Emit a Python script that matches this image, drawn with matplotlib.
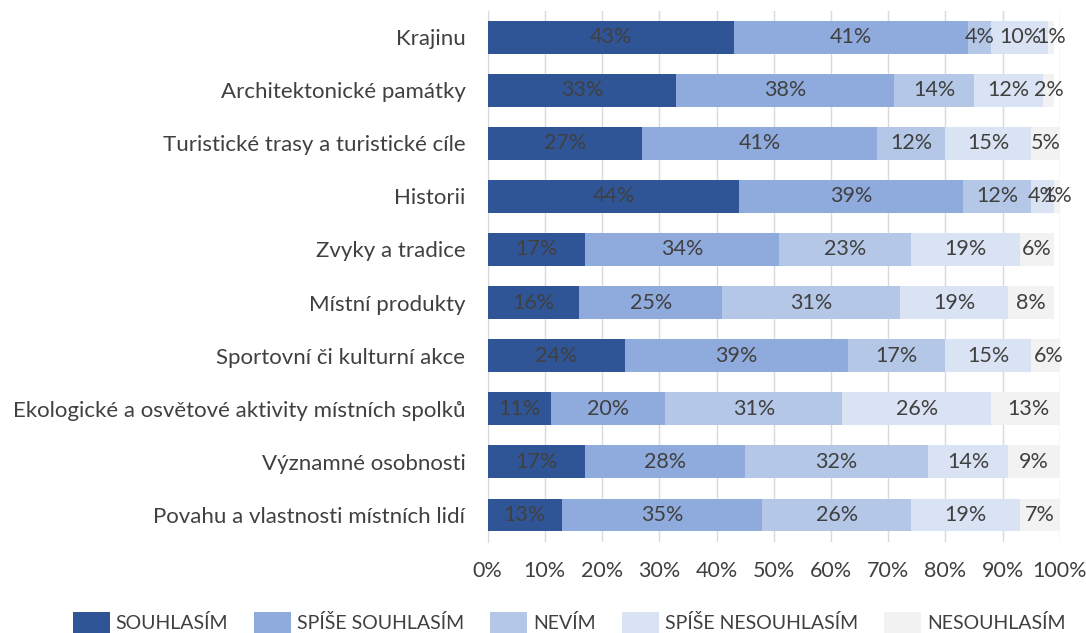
import matplotlib
matplotlib.use("Agg")
import matplotlib.pyplot as plt
import numpy as np

plt.rcParams['font.family'] = ['Lato', 'DejaVu Sans']

# ── data ────────────────────────────────────────────────────────────────────
categories = [
    "Krajinu",
    "Architektonické památky",
    "Turistické trasy a turistické cíle",
    "Historii",
    "Zvyky a tradice",
    "Místní produkty",
    "Sportovní či kulturní akce",
    "Ekologické a osvětové aktivity místních spolků",
    "Významné osobnosti",
    "Povahu a vlastnosti místních lidí",
]
souhlasim        = [43, 33, 27, 44, 17, 16, 24, 11, 17, 13]
spise_souhlasim  = [41, 38, 41, 39, 34, 25, 39, 20, 28, 35]
nevim            = [4, 14, 12, 12, 23, 31, 17, 31, 32, 26]
spise_nesouhl    = [10, 12, 15, 4, 19, 19, 15, 26, 14, 19]
nesouhlasim      = [1, 2, 5, 1, 6, 8, 6, 13, 9, 7]

series_names = ["SOUHLASÍM", "SPÍŠE SOUHLASÍM", "NEVÍM",
                "SPÍŠE NESOUHLASÍM", "NESOUHLASÍM"]
series = [souhlasim, spise_souhlasim, nevim, spise_nesouhl, nesouhlasim]
colors = ["#2F5597", "#8FAADC", "#B4C7E7", "#DAE3F3", "#F2F2F2"]

# ── plot ────────────────────────────────────────────────────────────────────
fig = plt.figure(figsize=(10.86, 6.33), dpi=100)
ax = fig.add_axes([0.449, 0.1445, 0.527, 0.8389])

y = np.arange(len(categories))
left = np.zeros(len(categories))
for name, vals, col in zip(series_names, series, colors):
    vals = np.array(vals, dtype=float)
    ax.barh(y, vals, left=left, height=0.62, color=col, label=name, zorder=3)
    for yi, l, v in zip(y, left, vals):
        ax.text(l + v / 2, yi, f"{int(v)}%", ha='center', va='center',
                fontsize=15.5, color='#404040', zorder=4)
    left += vals

ax.set_xlim(0, 100)
ax.set_ylim(len(categories) - 0.5, -0.5)
ax.set_xticks(np.arange(0, 101, 10))
ax.set_xticklabels([f"{t}%" for t in range(0, 101, 10)])
ax.set_yticks(y)
ax.set_yticklabels(categories)
ax.tick_params(axis='both', length=0, labelsize=15.5, colors='#404040')
ax.tick_params(axis='y', labelsize=16, pad=16)
ax.tick_params(axis='x', pad=14)
ax.grid(axis='x', color='#D9D9D9', linewidth=1, zorder=0)
for s in ['top', 'right', 'bottom']:
    ax.spines[s].set_visible(False)
ax.spines['left'].set_color('#D9D9D9')

# legend strip along the bottom edge
fig.legend(loc='center', bbox_to_anchor=(0.524, 0.016), ncol=5,
           frameon=False, fontsize=14, handlelength=1.9, handleheight=1.3,
           handletextpad=0.3, columnspacing=1.35, borderpad=0,
           labelcolor='#404040')

fig.savefig("out.png", dpi=100)
